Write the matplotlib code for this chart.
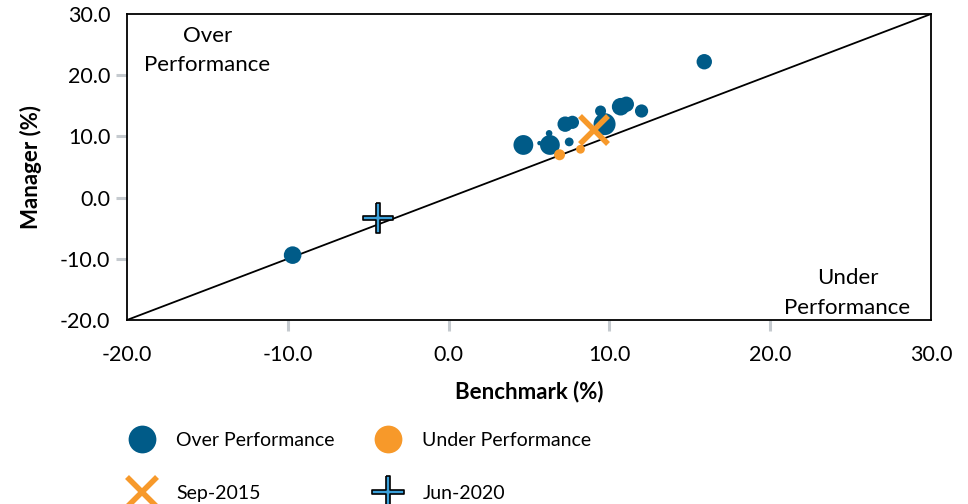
import matplotlib

matplotlib.use("Agg")
import matplotlib.pyplot as plt
from matplotlib.lines import Line2D
from matplotlib.path import Path

plt.rcParams["font.family"] = ["Lato", "DejaVu Sans"]

BLUE = "#005b88"
ORANGE = "#f7992a"
PLUS_FILL = "#3a9fd8"
TICK_GREY = "#c5cacf"

# Manager vs benchmark returns (%), bubble size = relative weight
over_bench = [15.9, -9.7, 4.65, 5.65, 6.25, 6.3, 7.5, 7.25, 7.7, 8.95, 9.45, 9.7, 10.7, 11.05, 12.0]
over_mgr = [22.2, -9.4, 8.6, 8.9, 10.5, 8.6, 9.1, 12.0, 12.3, 10.8, 14.15, 12.0, 14.85, 15.25, 14.15]
over_size = [7, 8, 9, 2, 3, 9, 4, 7, 6, 2, 5, 10, 8, 7, 6]

under_bench = [6.9, 8.2]
under_mgr = [7.0, 7.9]
under_size = [5, 4]

sep2015 = (9.05, 11.05)
jun2020 = (-4.4, -3.3)

ticks = [-20, -10, 0, 10, 20, 30]


def _s(r):
    # radius in pixels -> scatter area in pt^2 (dpi 100), slightly padded
    return (2 * r * 0.72 * 1.1) ** 2


# thin plus outline used for the Jun-2020 marker
w = 0.13
plus_marker = Path([(-w, 1), (w, 1), (w, w), (1, w), (1, -w), (w, -w), (w, -1),
                    (-w, -1), (-w, -w), (-1, -w), (-1, w), (-w, w), (-w, 1)])

fig = plt.figure(figsize=(9.68, 5.04), dpi=100)
ax = fig.add_axes([127 / 968, 184 / 504, 804 / 968, 306 / 504])

ax.plot(ticks, ticks, color="black", lw=1.3, zorder=1)
ax.scatter(over_bench, over_mgr, s=[_s(r) for r in over_size], color=BLUE,
           linewidths=0, zorder=3)
ax.scatter(under_bench, under_mgr, s=[_s(r) for r in under_size], color=ORANGE,
           linewidths=0, zorder=3)
ax.plot([sep2015[0]], [sep2015[1]], marker="x", markersize=20, mew=4,
        color=ORANGE, zorder=4)
ax.plot([jun2020[0]], [jun2020[1]], marker=plus_marker, markersize=22,
        markerfacecolor=PLUS_FILL, markeredgecolor="black", mew=1.2, zorder=4)

ax.text(-15.0, 24.0, "Over\nPerformance", ha="center", va="center",
        fontsize=16, linespacing=1.55)
ax.text(24.8, -15.6, "Under\nPerformance", ha="center", va="center",
        fontsize=16, linespacing=1.6)

ax.set_xlim(-20, 30)
ax.set_ylim(-20, 30)
ax.set_xticks(ticks)
ax.set_yticks(ticks)
ax.set_xticklabels([f"{t:.1f}" for t in ticks])
ax.set_yticklabels([f"{t:.1f}" for t in ticks])
ax.tick_params(axis="both", labelsize=15.5, length=8, width=2.2, color=TICK_GREY)
ax.tick_params(axis="y", pad=4)
ax.tick_params(axis="x", pad=10)
for axis in (ax.xaxis, ax.yaxis):
    tk = axis.get_major_ticks()
    tk[0].tick1line.set_visible(False)
    tk[-1].tick1line.set_visible(False)
for sp in ax.spines.values():
    sp.set_linewidth(1.3)
    sp.set_color("black")

ax.set_xlabel("Benchmark (%)", fontsize=16, fontweight="bold", labelpad=11)
ax.set_ylabel("Manager (%)", fontsize=16, fontweight="bold", labelpad=13)

handles = [
    Line2D([], [], ls="none", marker="o", markersize=20, color=BLUE, mew=0),
    Line2D([], [], ls="none", marker="x", markersize=21, mew=4, color=ORANGE),
    Line2D([], [], ls="none", marker="o", markersize=20, color=ORANGE, mew=0),
    Line2D([], [], ls="none", marker=plus_marker, markersize=23,
           markerfacecolor=PLUS_FILL, markeredgecolor="black", mew=1.2),
]
labels = ["Over Performance", "Sep-2015", "Under Performance", "Jun-2020"]
fig.legend(handles, labels, ncol=2, loc="upper left",
           bbox_to_anchor=(118 / 968, 1 - 422 / 504), frameon=False,
           fontsize=14, handlelength=1.5, handletextpad=1.0,
           columnspacing=2.0, labelspacing=1.85, borderpad=0)

fig.savefig("out.png", dpi=100)
